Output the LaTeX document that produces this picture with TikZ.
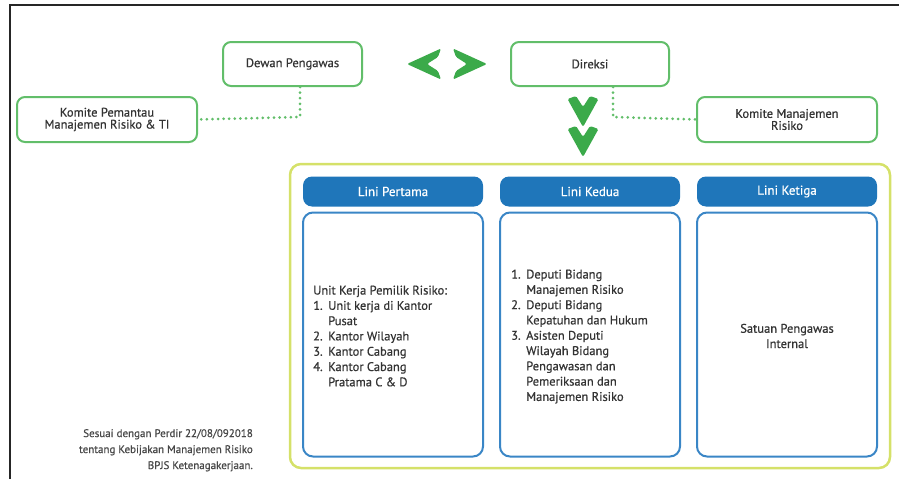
\documentclass[tikz,border=0pt]{standalone}
\usepackage{fontspec}
\setmainfont{PT Sans}[UprightFeatures={FakeBold=0.6}]
\definecolor{gbox}{HTML}{62BE6A}
\definecolor{gchev}{HTML}{3BAA4A}
\definecolor{bhead}{HTML}{1F76BA}
\definecolor{bbody}{HTML}{3A86C6}
\definecolor{lime}{HTML}{D5E169}
\definecolor{txt}{HTML}{333333}
\newcommand{\itm}[1]{\makebox[15pt][l]{#1}}
\newcommand{\ind}{\hspace*{15pt}}
% down chevron: #1 = centre x, #2 = top y
\newcommand{\chevdown}[2]{\fill[chev] (#1-15.5,#2+3) -- (#1-7,#2) -- (#1,#2+11) -- (#1+7,#2) -- (#1+15.5,#2+3) -- (#1,#2+31) -- cycle;}
% horizontal chevron: #1 = back x, #2 = centre y, #3 = direction (+1 right, -1 left)
\newcommand{\chevhor}[3]{\fill[chev] (#1-#3*3,#2-15.5) -- (#1,#2-7) -- (#1+#3*11,#2) -- (#1,#2+7) -- (#1-#3*3,#2+15.5) -- (#1+#3*31,#2) -- cycle;}
\begin{document}
\begin{tikzpicture}[x=1pt,y=-1pt,
  gnode/.style={draw=gbox,line width=2pt,rounded corners=8pt,fill=white,align=center,text=txt,font=\fontsize{12.5}{14}\selectfont},
  headnode/.style={fill=bhead,rounded corners=9pt,minimum width=180pt,minimum height=30pt,text=white,font=\fontsize{13}{15}\selectfont},
  bodynode/.style={draw=bbody,line width=2pt,rounded corners=10pt,minimum width=180pt,minimum height=244pt},
  listtext/.style={inner sep=0pt,align=left,text=txt,font=\fontsize{12.5}{15.3}\selectfont},
  dotline/.style={draw=gbox,line width=3pt,line cap=round,dash pattern=on 0pt off 5.6pt},
  chev/.style={fill=gchev,rounded corners=1.5pt}]
\useasboundingbox (0,0) rectangle (899,479);
\draw[line width=2pt,black!85] (10,479) -- (10,5) -- (899,5);

\node[gnode,minimum width=139pt,minimum height=44pt] (dewan) at (292.5,64) {Dewan Pengawas};
\node[gnode,minimum width=158pt,minimum height=44pt] (direksi) at (590,64) {Direksi};
\node[gnode,minimum width=180pt,minimum height=45pt] (kp) at (107,119.5) {Komite Pemantau\\[-2pt]Manajemen Risiko \& TI};
\node[gnode,minimum width=180pt,minimum height=45pt] (km) at (787,119.5) {Komite Manajemen\\[-2pt]Risiko};

\coordinate (c1) at (300,117);
\coordinate (c2) at (613,117);
\draw[dotline] (dewan.south -| c1) -- (c1) -- (kp.east);
\draw[dotline] (direksi.south -| c2) -- (c2) -- (km.west);

% chevrons
\chevhor{438}{64}{-1}
\chevhor{456}{64}{1}
\chevdown{583}{96}
\chevdown{583}{126}

\node[draw=lime,line width=2.5pt,rounded corners=11pt,minimum width=600pt,minimum height=304pt] (cont) at (590,316) {};

\node[headnode] (h1) at (393,191.5) {Lini Pertama};
\node[headnode] (h2) at (590,191.5) {Lini Kedua};
\node[headnode] (h3) at (787,191.5) {Lini Ketiga};
\node[bodynode] (b1) at (393,334.5) {};
\node[bodynode] (b2) at (590,334.5) {};
\node[bodynode] (b3) at (787,334.5) {};

\node[listtext,anchor=base west] (t1) at (313,386.3) {Unit Kerja Pemilik Risiko:\\
\itm{1.}Unit kerja di Kantor\\
\ind Pusat\\
\itm{2.}Kantor Wilayah\\
\itm{3.}Kantor Cabang\\
\itm{4.}Kantor Cabang\\
\ind Pratama C \& D};

\node[listtext,anchor=base west] (t2) at (511,400.9) {\itm{1.}Deputi Bidang\\
\ind Manajemen Risiko\\
\itm{2.}Deputi Bidang\\
\ind Kepatuhan dan Hukum\\
\itm{3.}Asisten Deputi\\
\ind Wilayah Bidang\\
\ind Pengawasan dan\\
\ind Pemeriksaan dan\\
\ind Manajemen Risiko};

\node[listtext,align=center] (t3) at (787,336) {Satuan Pengawas\\Internal};

\node[inner sep=0pt,align=right,anchor=base east,text=txt!90,font=\fontsize{11}{16}\selectfont] (note) at (253,469) {Sesuai dengan Perdir 22/08/092018\\tentang Kebijakan Manajemen Risiko\\BPJS Ketenagakerjaan.};
\end{tikzpicture}
\end{document}
